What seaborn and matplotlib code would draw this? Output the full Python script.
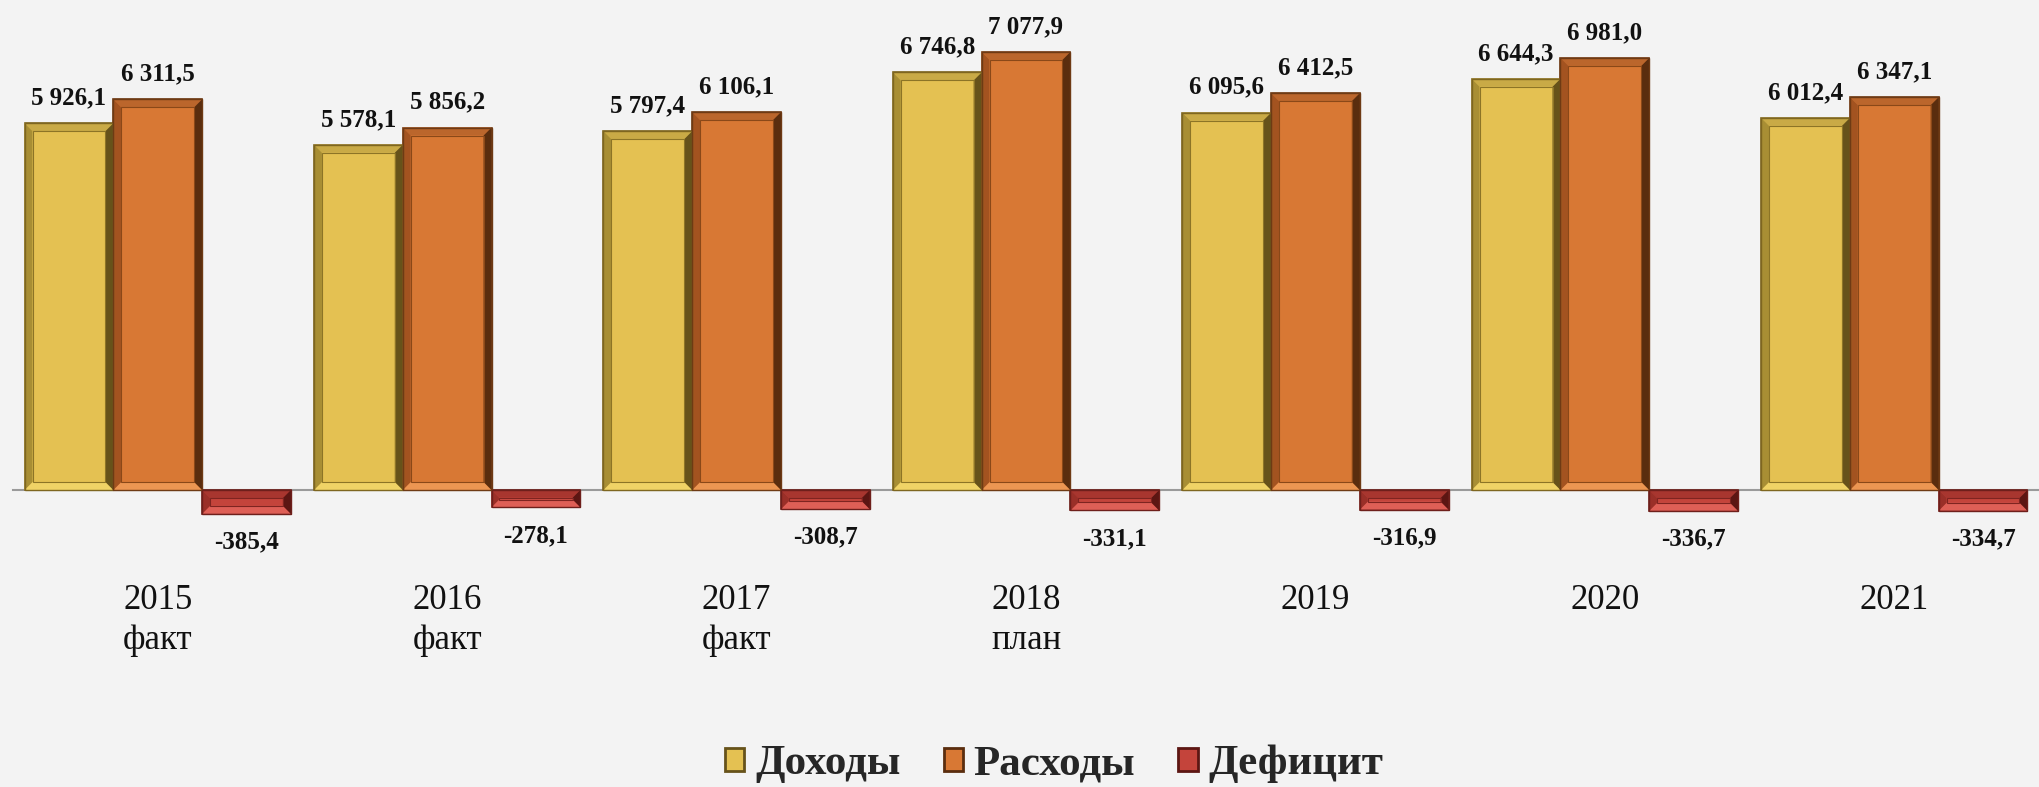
import numpy as np
import pandas as pd
import matplotlib
matplotlib.use("Agg")
import matplotlib.pyplot as plt
from matplotlib.patches import Polygon, Patch
import seaborn as sns

# ---- data ----
categories = ["2015\nфакт", "2016\nфакт", "2017\nфакт", "2018\nплан", "2019", "2020", "2021"]
series_names = ["Доходы", "Расходы", "Дефицит"]
dohody = [5926.1, 5578.1, 5797.4, 6746.8, 6095.6, 6644.3, 6012.4]
rashody = [6311.5, 5856.2, 6106.1, 7077.9, 6412.5, 6981.0, 6347.1]
deficit = [-385.4, -278.1, -308.7, -331.1, -316.9, -336.7, -334.7]

face_colors = ["#E4C152", "#D87834", "#C4443B"]
edge_colors = ["#7E6620", "#6E3A14", "#6E1F1B"]
inner_line = ["#8C7426", "#8A4818", "#7E2420"]
# bevel band colours: top, bottom, left, right
bevel_colors = [
    ["#C9AA46", "#F0D366", "#A88E34", "#66521A"],
    ["#BB662C", "#EC9652", "#A35320", "#5A2D0E"],
    ["#A8362F", "#DE5F56", "#9A2F28", "#5C1613"],
]

df = pd.DataFrame({
    "cat": categories * 3,
    "series": sum([[s] * len(categories) for s in series_names], []),
    "value": dohody + rashody + deficit,
})

sns.set_theme(style="white")
plt.rcParams["font.family"] = ["Liberation Serif", "DejaVu Serif"]

W, H, DPI = 2039, 787, 100
fig = plt.figure(figsize=(W / DPI, H / DPI), dpi=DPI)
bg = "#F3F3F3"
fig.patch.set_facecolor(bg)

left_px, top_px, bottom_px = 13, 0, 560
ax = fig.add_axes([left_px / W, 1 - bottom_px / H, 1 - left_px / W, (bottom_px - top_px) / H])
ax.set_facecolor(bg)

sns.barplot(data=df, x="cat", y="value", hue="series", hue_order=series_names,
            palette=face_colors, saturation=1, width=0.92, gap=0, legend=False,
            errorbar=None, ax=ax)

px_per_unit = 0.0619
zero_px = 490
ax.set_ylim(-(bottom_px - zero_px) / px_per_unit, (zero_px - top_px) / px_per_unit)
cat_px = 292
ax.set_xlim(-0.5, -0.5 + (W - left_px) / cat_px)

# bevel-like styling built from each bar's own geometry
bev_px = 8
for i, cont in enumerate(ax.containers):
    for p in cont:
        p.set_edgecolor(edge_colors[i])
        p.set_linewidth(1.2)
        x, y, w, h = p.get_x(), p.get_y(), p.get_width(), p.get_height()
        y0, y1 = min(y, y + h), max(y, y + h)
        hp = (y1 - y0) * px_per_unit
        b = min(bev_px, hp / 2 - 1.0)
        dx = b / cat_px
        dy = b / px_per_unit
        x0, x1 = x, x + w
        ix0, ix1, iy0, iy1 = x0 + dx, x1 - dx, y0 + dy, y1 - dy
        z = p.get_zorder() + 0.1
        top_c, bot_c, left_c, right_c = bevel_colors[i]
        polys = [
            ([(x0, y1), (x1, y1), (ix1, iy1), (ix0, iy1)], top_c),
            ([(x0, y0), (x1, y0), (ix1, iy0), (ix0, iy0)], bot_c),
            ([(x0, y0), (ix0, iy0), (ix0, iy1), (x0, y1)], left_c),
            ([(x1, y0), (ix1, iy0), (ix1, iy1), (x1, y1)], right_c),
        ]
        for pts, c in polys:
            ax.add_patch(Polygon(pts, closed=True, facecolor=c, edgecolor="none", zorder=z))
        ax.add_patch(Polygon([(ix0, iy0), (ix1, iy0), (ix1, iy1), (ix0, iy1)], closed=True,
                             facecolor="none", edgecolor=inner_line[i], linewidth=0.8,
                             zorder=z + 0.05))
        ax.add_patch(Polygon([(x0, y0), (x1, y0), (x1, y1), (x0, y1)], closed=True,
                             facecolor="none", edgecolor=edge_colors[i], linewidth=1.0,
                             zorder=z + 0.1))


def fmt(v):
    s = f"{abs(v):,.1f}".replace(",", " ").replace(".", ",")
    return ("-" if v < 0 else "") + s


for i, cont in enumerate(ax.containers):
    vals = [dohody, rashody, deficit][i]
    pad = 12 if i == 2 else 10
    ax.bar_label(cont, labels=[fmt(v) for v in vals], padding=pad,
                 fontsize=18, fontweight="bold", color="#111111")

# axes styling
for s in ["top", "right", "left"]:
    ax.spines[s].set_visible(False)
ax.spines["bottom"].set_position(("data", 0))
ax.spines["bottom"].set_color("#9A9A9A")
ax.spines["bottom"].set_linewidth(1.5)
ax.spines["bottom"].set_zorder(0.5)
ax.set_yticks([])
ax.set_xlabel("")
ax.set_ylabel("")
ax.tick_params(axis="x", which="major", length=0, pad=68, labelsize=25, labelcolor="#111111")
ax.set_xticks(np.arange(-0.5, len(categories) + 0.5, 1), minor=True)
ax.tick_params(axis="x", which="minor", length=7, width=1.5, color="#9A9A9A", direction="out")
for t in ax.get_xticklabels():
    t.set_linespacing(1.25)

handles = [Patch(facecolor=face_colors[i], edgecolor=bevel_colors[i][3], linewidth=2.0, label=series_names[i])
           for i in range(3)]
leg = fig.legend(handles=handles, loc="center", bbox_to_anchor=(0.517, 0.029), ncol=3,
                 frameon=False, prop={"size": 31, "weight": "bold"},
                 handlelength=0.45, handleheight=0.45, handletextpad=0.25, columnspacing=1.0)

fig.savefig("out.png", dpi=DPI, facecolor=bg)
